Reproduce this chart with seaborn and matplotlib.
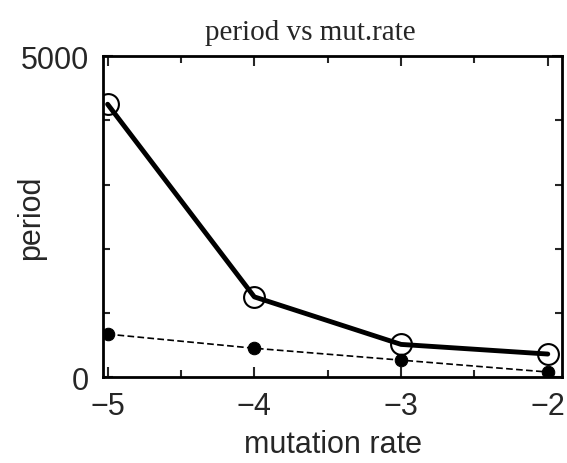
import matplotlib
matplotlib.use("Agg")
import matplotlib.pyplot as plt
import seaborn as sns
import pandas as pd
from matplotlib.ticker import MultipleLocator, FixedLocator

# data
mutation_rate = [-5, -4, -3, -2]
period_open = [4250, 1250, 510, 360]
period_filled = [670, 450, 265, 80]

df = pd.DataFrame({
    "mutation rate": mutation_rate * 2,
    "period": period_open + period_filled,
    "series": ["open"] * 4 + ["filled"] * 4,
})

sns.set_style("ticks")
plt.rcParams["font.family"] = ["Liberation Sans", "DejaVu Sans"]

fig = plt.figure(figsize=(5.67, 4.64), dpi=100)
ax = fig.add_axes([0.182, 0.185, 0.810, 0.692])

sns.lineplot(data=df[df["series"] == "open"], x="mutation rate", y="period",
             color="black", linewidth=3.5, marker="o", markersize=15,
             markerfacecolor="none", markeredgecolor="black", markeredgewidth=1.5,
             ax=ax, zorder=3)
sns.lineplot(data=df[df["series"] == "filled"], x="mutation rate", y="period",
             color="black", linewidth=1.2, linestyle=(0, (4, 2)), marker="o", markersize=9,
             markerfacecolor="black", markeredgecolor="black",
             ax=ax, zorder=2)

ax.set_xlim(-5.03, -1.9)
ax.set_ylim(0, 5000)
ax.set_xticks(mutation_rate)
ax.set_xticklabels(["\u22125", "\u22124", "\u22123", "\u22122"])
ax.xaxis.set_minor_locator(MultipleLocator(0.5))
ax.set_yticks([0, 5000])
ax.yaxis.set_minor_locator(FixedLocator([1000, 2000, 3000, 4000]))
ax.tick_params(which="both", direction="in", top=True, right=True, width=1.5)
ax.tick_params(which="major", length=7, labelsize=22, pad=10)
ax.tick_params(which="minor", length=5)
for s in ax.spines.values():
    s.set_linewidth(2)
    s.set_color("black")

ax.set_xlabel("mutation rate", fontsize=22, labelpad=6)
ax.set_ylabel("period", fontsize=22, labelpad=-18)
ax.set_title("period vs mut.rate", fontsize=21, family=["Liberation Serif"],
             pad=12, x=0.45)

fig.savefig("out.png", dpi=100)
